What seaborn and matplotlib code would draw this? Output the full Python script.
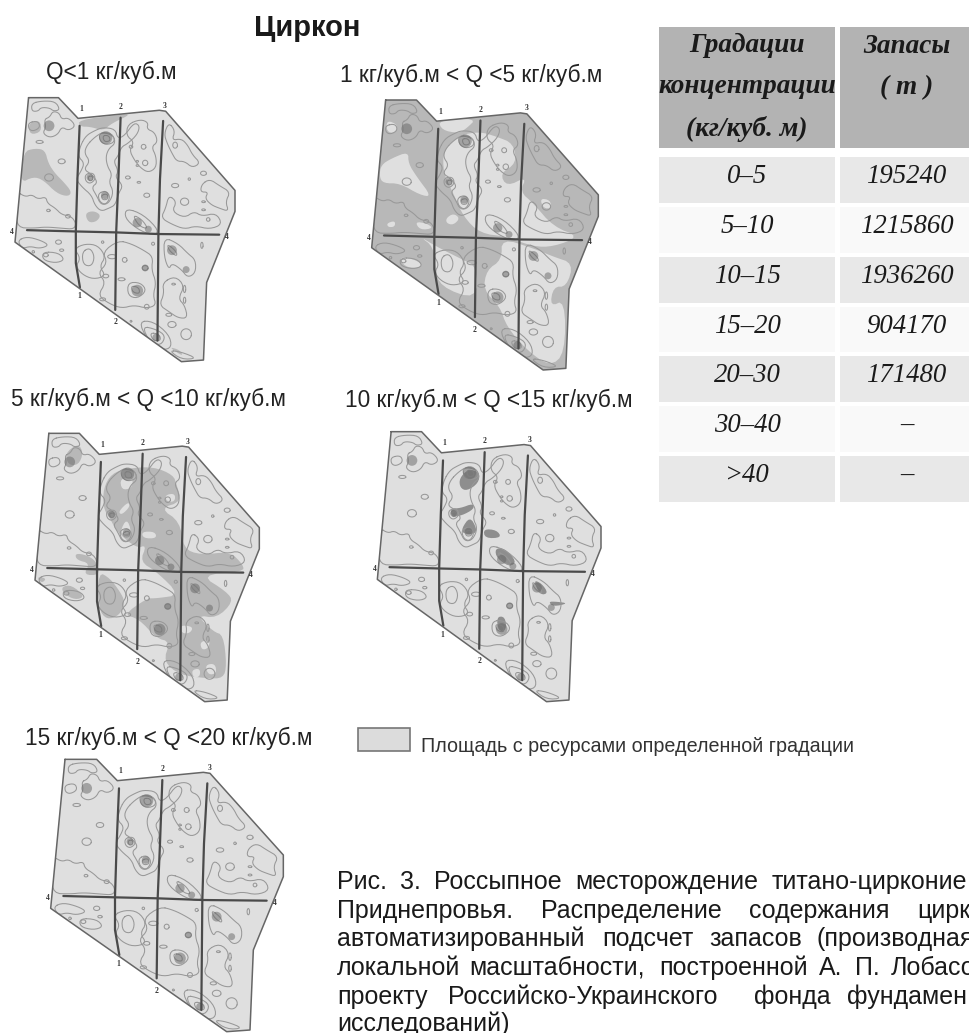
import numpy as np
import pandas as pd
import matplotlib
matplotlib.use("Agg")
import matplotlib.pyplot as plt
import seaborn as sns
from matplotlib.patches import Polygon, Rectangle

sns.set_style("white")
plt.rcParams['font.family'] = ['Liberation Sans', 'DejaVu Sans']

W, H = 970, 1033

# Table
grades = ["0–5", "5–10", "10–15", "15–20", "20–30", "30–40", ">40"]
reserves = ["195240", "1215860", "1936260", "904170", "171480", "–", "–"]
header_left = "Градации\nконцентрации\n(кг/куб. м)"
header_right = "Запасы\n( т )\n "
row_shades = [0.91, 0.975, 0.91, 0.975, 0.91, 0.975, 0.91]

# Map sheet (zoom coordinates, 3 units = 1 px)
outline = [(195, 148), (290, 148), (352, 212), (610, 187), (630, 190), (850, 435), (850, 500),
           (760, 720), (750, 960), (680, 965), (152, 595)]
section_1 = [(357, 235), (350, 400), (345, 560), (345, 660), (358, 735)]
section_2 = [(487, 210), (480, 400), (473, 565), (470, 805)]
section_3 = [(622, 220), (612, 400), (607, 570), (604, 900)]
section_4 = [(190, 558), (345, 562), (473, 565), (607, 570), (800, 572)]
section_marks = [("1", 362, 183), ("2", 487, 177), ("3", 628, 173), ("4", 143, 565), ("4", 825, 578),
                 ("1", 356, 762), ("2", 470, 843)]
contours = [
    [(205, 165), (240, 158), (280, 160), (295, 185), (275, 190), (262, 180), (235, 178), (225, 190), (205, 190)],
    [(195, 225), (225, 220), (232, 240), (210, 252), (195, 245)],
    [(245, 215), (262, 208), (272, 190), (292, 195), (300, 215), (322, 210), (345, 235), (322, 250), (300, 238),
     (288, 262), (262, 272), (240, 258), (250, 240)],
    [(360, 295), (378, 265), (405, 250), (430, 240), (470, 245), (478, 275), (500, 265), (530, 225), (548, 235),
     (540, 262), (510, 290), (490, 300), (478, 330), (465, 345), (480, 375), (470, 395), (495, 420), (480, 445),
     (470, 480), (450, 490), (425, 500), (405, 480), (395, 450), (365, 425), (345, 400), (362, 375), (372, 350),
     (352, 330)],
    [(380, 295), (405, 270), (430, 255), (465, 265), (470, 290), (450, 305), (440, 330), (445, 360), (460, 385),
     (450, 410), (465, 440), (450, 475), (425, 480), (410, 450), (395, 425), (415, 410), (395, 385), (370, 370),
     (390, 345), (372, 320)],
    [(420, 255), (460, 258), (470, 285), (440, 295), (420, 280)],
    [(430, 265), (450, 265), (455, 282), (435, 285)],
    [(375, 385), (400, 380), (408, 400), (390, 415), (375, 405)],
    [(383, 392), (397, 390), (400, 402), (388, 407)],
    [(415, 445), (440, 435), (455, 455), (440, 480), (420, 470)],
    [(425, 450), (445, 445), (448, 462), (430, 465)],
    [(160, 440), (185, 455), (205, 448), (225, 462), (250, 455), (255, 475), (280, 490), (300, 510), (330, 515),
     (345, 535), (340, 555), (300, 552), (250, 548), (210, 552), (160, 550), (155, 500)],
    [(510, 230), (550, 215), (575, 225), (570, 245), (595, 255), (605, 285), (585, 300), (600, 330), (600, 365),
     (575, 380), (550, 365), (530, 340), (515, 310), (530, 285), (505, 265)],
    [(640, 225), (660, 250), (650, 280), (680, 275), (700, 295), (715, 325), (740, 350), (715, 365), (690, 345),
     (665, 345), (650, 320), (635, 290), (625, 260)],
    [(745, 415), (770, 400), (800, 420), (835, 440), (820, 470), (830, 500), (800, 490), (775, 480), (755, 460),
     (765, 440), (740, 440)],
    [(640, 450), (665, 470), (650, 500), (690, 520), (720, 500), (745, 515), (790, 505), (810, 540), (770, 555),
     (725, 545), (690, 555), (650, 540), (615, 520), (630, 490)],
    [(625, 580), (670, 600), (700, 630), (725, 650), (725, 690), (700, 705), (680, 680), (650, 660), (640, 680),
     (625, 640)],
    [(505, 490), (560, 510), (610, 560), (590, 575), (540, 555), (500, 520)],
    [(525, 510), (555, 525), (575, 555), (545, 545)],
    [(635, 600), (665, 625), (665, 640), (640, 620)],
    [(480, 590), (520, 600), (560, 620), (590, 640), (585, 680), (600, 720), (590, 760), (600, 790), (570, 800),
     (530, 790), (490, 800), (450, 785), (415, 760), (440, 720), (415, 690), (445, 660), (430, 625)],
    [(160, 590), (190, 578), (235, 590), (260, 605), (230, 615), (200, 608), (175, 615)],
    [(240, 625), (290, 628), (310, 650), (280, 660), (240, 650)],
    [(340, 615), (375, 600), (415, 605), (440, 640), (420, 670), (440, 700), (400, 710), (365, 695), (345, 670),
     (360, 645)],
    [(365, 625), (390, 612), (405, 640), (395, 670), (368, 665)],
    [(510, 720), (550, 720), (570, 745), (540, 770), (510, 760)],
    [(520, 730), (545, 735), (548, 755), (525, 750)],
    [(620, 720), (660, 700), (690, 730), (670, 770), (690, 790), (700, 830), (670, 830), (640, 810), (610, 790),
     (625, 755)],
    [(545, 840), (590, 840), (640, 880), (650, 920), (620, 930), (570, 895)],
    [(555, 855), (600, 865), (630, 885), (615, 915), (580, 905)],
    [(580, 875), (610, 880), (615, 900), (590, 900)],
    [(640, 930), (680, 935), (730, 955), (680, 958)],
]
blob_x = [300, 260, 230, 258, 320, 520, 560, 565, 540, 540, 660, 705, 660, 690, 750, 750, 750, 765, 570, 545, 510,
          430, 250, 210, 290, 300, 460, 500, 565, 655, 690, 690, 570, 640, 650, 695, 430, 520, 745, 590, 440, 490]
blob_y = [345, 395, 285, 497, 515, 300, 300, 350, 345, 358, 295, 400, 420, 470, 382, 470, 495, 525, 450, 410, 395,
          595, 635, 625, 595, 620, 640, 650, 675, 725, 740, 775, 795, 820, 850, 880, 772, 840, 605, 600, 700, 710]
blob_rx = [12, 15, 12, 6, 8, 6, 8, 9, 4, 4, 8, 4, 12, 14, 10, 6, 6, 6, 10, 6, 8,
           4, 8, 4, 10, 7, 15, 8, 10, 6, 4, 4, 8, 10, 14, 18, 10, 3, 4, 5, 10, 12]
blob_ry = [8, 12, 5, 4, 6, 5, 8, 9, 3, 3, 10, 4, 7, 12, 7, 3, 3, 6, 7, 3, 5,
           4, 6, 4, 7, 4, 7, 8, 8, 3, 12, 10, 8, 5, 10, 18, 5, 3, 10, 5, 6, 5]
cluster_x = [260, 440, 390, 437, 540, 575, 650, 540, 565, 695, 600]
cluster_y = [235, 272, 395, 450, 535, 555, 620, 745, 675, 680, 890]
cluster_size = [60, 90, 25, 30, 45, 25, 50, 70, 25, 25, 30]

# Panels: title, title position, offset of the zoom crop, extents of the sheet in it
panel_titles = ["Q<1 кг/куб.м", "1 кг/куб.м < Q <5 кг/куб.м", "5 кг/куб.м < Q <10 кг/куб.м",
                "10 кг/куб.м < Q <15 кг/куб.м", "15 кг/куб.м < Q <20 кг/куб.м"]
title_pos = [(46, 72), (340, 75), (11, 399), (345, 400), (25, 738)]
crop_offset = [(0, 0), (320, 60), (0, 385), (320, 385), (0, 710)]
sheet_box = [(45, 705, 293, 1085), (155, 835, 120, 930), (105, 778, 145, 950), (172, 843, 140, 950),
             (152, 850, 148, 965)]

# Shaded areas, in each panel's own crop coordinates
regions_q1 = [
    [(70, 455), (105, 445), (135, 450), (145, 490), (165, 520), (190, 545), (215, 575), (205, 590), (170, 580),
     (130, 540), (100, 530), (60, 550)],
    [(235, 360), (355, 345), (395, 342), (335, 370), (310, 392), (270, 380), (240, 380)],
    [(255, 640), (280, 632), (303, 645), (290, 665), (265, 668)],
    [(85, 370), (120, 360), (125, 395), (90, 405)],
    [(505, 1040), (540, 1050), (550, 1070)],
]
light_q5 = [
    [(200, 180), (235, 195), (225, 220), (200, 215)],
    [(183, 315), (215, 295), (265, 275), (265, 310), (290, 350), (335, 410), (300, 405), (240, 370), (190, 370),
     (178, 350)],
    [(355, 180), (470, 175), (440, 205), (415, 220), (365, 210)],
    [(370, 270), (420, 225), (480, 215), (530, 230), (580, 250), (590, 310), (540, 340), (560, 380), (620, 350),
     (600, 395), (640, 430), (700, 500), (780, 530), (700, 560), (640, 560), (560, 530), (480, 520), (430, 470),
     (400, 400), (370, 340)],
    [(545, 535), (640, 565), (700, 590), (760, 610), (740, 680), (700, 680), (690, 740), (735, 720), (735, 880),
     (690, 920), (620, 870), (560, 800), (540, 740), (490, 690), (500, 630), (545, 600)],
    [(300, 530), (350, 560), (430, 600), (470, 620), (470, 720), (360, 680), (345, 620), (340, 560)],
    [(378, 475), (400, 460), (420, 475), (400, 495), (380, 490)],
    [(200, 490), (225, 482), (225, 500), (205, 502)],
    [(240, 590), (290, 600), (310, 620), (270, 625), (245, 610)],
    [(285, 485), (320, 490), (340, 505), (300, 510)],
    [(660, 415), (690, 420), (695, 445), (670, 445)],
]
regions_q10 = [
    [(310, 310), (335, 265), (385, 250), (460, 245), (520, 270), (530, 300), (545, 350), (480, 370), (540, 410),
     (550, 490), (600, 510), (690, 500), (730, 540), (730, 560), (600, 570), (680, 620), (700, 650), (650, 700),
     (590, 690), (640, 740), (670, 750), (680, 840), (670, 880), (620, 880), (540, 870), (490, 830), (510, 770),
     (470, 760), (415, 700), (370, 690), (440, 640), (470, 640), (540, 630), (470, 560), (420, 530), (440, 480),
     (410, 490), (350, 440), (330, 400), (310, 370)],
    [(295, 560), (330, 580), (360, 620), (375, 650), (360, 690), (320, 705), (295, 670)],
    [(225, 505), (260, 510), (290, 530), (300, 570), (250, 570), (270, 535), (230, 525)],
    [(185, 605), (215, 600), (255, 635), (225, 645), (190, 625)],
    [(195, 205), (235, 175), (250, 205), (235, 240), (205, 240)],
    [(110, 575), (140, 580), (125, 595)],
]
holes_q10 = [
    [(360, 280), (400, 280), (395, 310), (365, 315)],
    [(355, 380), (385, 350), (390, 365), (365, 390)],
    [(360, 440), (380, 400), (395, 440), (375, 450)],
    [(495, 330), (525, 325), (525, 350), (500, 350)],
    [(425, 440), (465, 440), (470, 460), (430, 460)],
    [(640, 700), (680, 710), (680, 735), (650, 740)],
    [(540, 720), (580, 725), (570, 745), (545, 745)],
    [(575, 855), (600, 850), (600, 875), (580, 878)],
    [(615, 840), (645, 835), (650, 865), (625, 870)],
    [(600, 770), (630, 765), (625, 790), (605, 795)],
]
dark_q15 = [
    [(418, 280), (445, 252), (480, 262), (475, 295), (440, 318), (420, 308)],
    [(392, 370), (420, 370), (460, 355), (462, 372), (425, 392), (395, 395)],
    [(425, 430), (450, 395), (470, 430), (465, 447), (430, 447)],
    [(490, 432), (530, 435), (545, 458), (495, 460)],
    [(525, 490), (555, 490), (590, 530), (570, 545), (530, 520)],
    [(640, 585), (665, 595), (685, 625), (660, 630)],
    [(530, 695), (555, 695), (560, 735), (535, 740)],
    [(685, 650), (710, 650), (745, 655), (700, 665)],
]

# Legend and caption
legend_text = "Площадь с ресурсами определенной градации"
caption_lines = [
    ["Рис.", "3.", "Россыпное", "месторождение", "титано-цирконие"],
    ["Приднепровья.", "Распределение", "содержания", "цирк"],
    ["автоматизированный", "подсчет", "запасов", "(производная"],
    ["локальной", "масштабности,", "построенной", "А.", "П.", "Лобасо"],
    ["проекту", "Российско-Украинского", "фонда", "фундамен"],
    ["исследований)"],
]
caption_starts = [[337, 400, 434, 575, 772], [337, 541, 749, 917], [337, 602, 709, 817],
                  [337, 469, 659, 819, 855, 891], [337, 448, 754, 847], [337]]
caption_y = [882, 911, 939, 968, 997, 1024]


def smooth(points, rounds=2):
    # corner cutting so traced loops look like contour lines
    pts = np.array(points, dtype=float)
    for _ in range(rounds):
        nxt = np.roll(pts, -1, axis=0)
        pts = np.column_stack([0.75 * pts + 0.25 * nxt, 0.25 * pts + 0.75 * nxt]).reshape(-1, 2)
    return np.vstack([pts, pts[:1]])


def from_crop(points, offset):
    return np.array(points, dtype=float) / 3 + np.array(offset)


def from_sheet(points, offset, box):
    pts = np.array(points, dtype=float)
    x = box[0] + (pts[:, 0] - 152) * (box[1] - box[0]) / (850 - 152)
    y = box[2] + (pts[:, 1] - 148) * (box[3] - box[2]) / (965 - 148)
    return np.column_stack([x, y]) / 3 + np.array(offset)


def lines_frame(loops):
    rows = []
    for i, loop in enumerate(loops):
        rows.append(pd.DataFrame({"x": loop[:, 0], "y": loop[:, 1], "loop": i}))
    return pd.concat(rows, ignore_index=True)


def blob_loop(x, y, rx, ry):
    # small closed contour around one traced spot
    a = np.linspace(0, 2 * np.pi, 8, endpoint=False)
    return np.column_stack([x + rx * np.cos(a), y + ry * np.sin(a)])


fig = plt.figure(figsize=(W / 100, H / 100), dpi=100)
ax = fig.add_axes([0, 0, 1, 1])

BASE = "#dfdfdf"
SHADE = "#b8b8b8"
LINE = "#989898"

all_loops = contours + [blob_loop(*b) for b in zip(blob_x, blob_y, blob_rx, blob_ry)]

for p in range(5):
    off, box = crop_offset[p], sheet_box[p]
    sheet = from_sheet(outline, off, box)
    ax.add_patch(Polygon(sheet, closed=True, fc=SHADE if p == 1 else BASE, ec="none", zorder=1))
    clip = Polygon(sheet, closed=True, transform=ax.transData, fc="none", ec="none")
    ax.add_patch(clip)

    fills = []
    if p == 0:
        fills = [(r, SHADE) for r in regions_q1]
    elif p == 1:
        fills = [(r, BASE) for r in light_q5]
    elif p == 2:
        fills = [(r, SHADE) for r in regions_q10] + [(r, BASE) for r in holes_q10]
    elif p == 3:
        fills = [(r, "#8e8e8e") for r in dark_q15]
    for region, colour in fills:
        patch = ax.fill(*smooth(from_crop(region, off)).T, color=colour, lw=0, zorder=2)[0]
        patch.set_clip_path(clip)

    before = len(ax.lines)
    loops = [smooth(from_sheet(c, off, box)) for c in all_loops]
    sns.lineplot(data=lines_frame(loops), x="x", y="y", units="loop", estimator=None, sort=False,
                 color=LINE, lw=0.75, ax=ax, legend=False, zorder=3)
    for line in ax.lines[before:]:
        line.set_clip_path(clip)

    spots = from_sheet(np.column_stack([cluster_x, cluster_y]), off, box)
    sns.scatterplot(x=spots[:, 0], y=spots[:, 1], s=cluster_size, color="#666666", alpha=0.5, lw=0,
                    ax=ax, legend=False, zorder=4)

    for sec in [section_1, section_2, section_3, section_4]:
        pts = from_sheet(sec, off, box)
        ax.plot(pts[:, 0], pts[:, 1], color="#4a4a4a", lw=1.6, zorder=5)
    closed = np.vstack([sheet, sheet[:1]])
    ax.plot(closed[:, 0], closed[:, 1], color="#666666", lw=1.1, zorder=6)

    for mark, mx, my in section_marks:
        pos = from_sheet([(mx, my)], off, box)[0]
        ax.text(pos[0], pos[1], mark, fontsize=5.5, fontweight="bold", family="Liberation Serif",
                ha="center", va="center", color="#333333", zorder=7)

    ax.text(title_pos[p][0], title_pos[p][1], panel_titles[p], fontsize=16.3, va="center", color="#222222")

ax.text(307, 28, "Циркон", fontsize=21, fontweight="bold", ha="center", va="center", color="#1a1a1a")

ax.add_patch(Rectangle((358, 728), 52, 23, fc="#dcdcdc", ec="#777777", lw=1.2))
ax.text(421, 746, legend_text, fontsize=14.2, va="center", color="#333333")

for words, starts, y in zip(caption_lines, caption_starts, caption_y):
    for word, start in zip(words, starts):
        ax.text(start, y, word, fontsize=18, va="center", color="#1a1a1a")

ax.set_xlim(0, W)
ax.set_ylim(H, 0)
ax.axis("off")


def table_part(x0, x1, y0, y1, values, labels, font):
    part = fig.add_axes([x0 / W, 1 - y1 / H, (x1 - x0) / W, (y1 - y0) / H])
    sns.heatmap(np.array(values).reshape(-1, 1), annot=np.array(labels).reshape(-1, 1), fmt="", cmap="gray",
                vmin=0, vmax=1, cbar=False, linewidths=1.5, linecolor="white", xticklabels=False,
                yticklabels=False, ax=part, annot_kws=font)
    return part


serif = dict(family="Liberation Serif", style="italic", color="#1a1a1a")
body_font = dict(fontsize=19.3, **serif)
head_font = dict(fontsize=19.6, fontweight="bold", linespacing=1.85, **serif)

for x0, x1, head, cells in [(657, 837, header_left, grades), (838, 975, header_right, reserves)]:
    table_part(x0, x1, 25, 150, [0.7], [head], head_font)
    body = table_part(x0, x1, 155, 504, row_shades, cells, body_font)
    for t in body.texts:
        tx, ty = t.get_position()
        t.set_position((tx, ty - 0.07))

fig.savefig("out.png", dpi=100)
